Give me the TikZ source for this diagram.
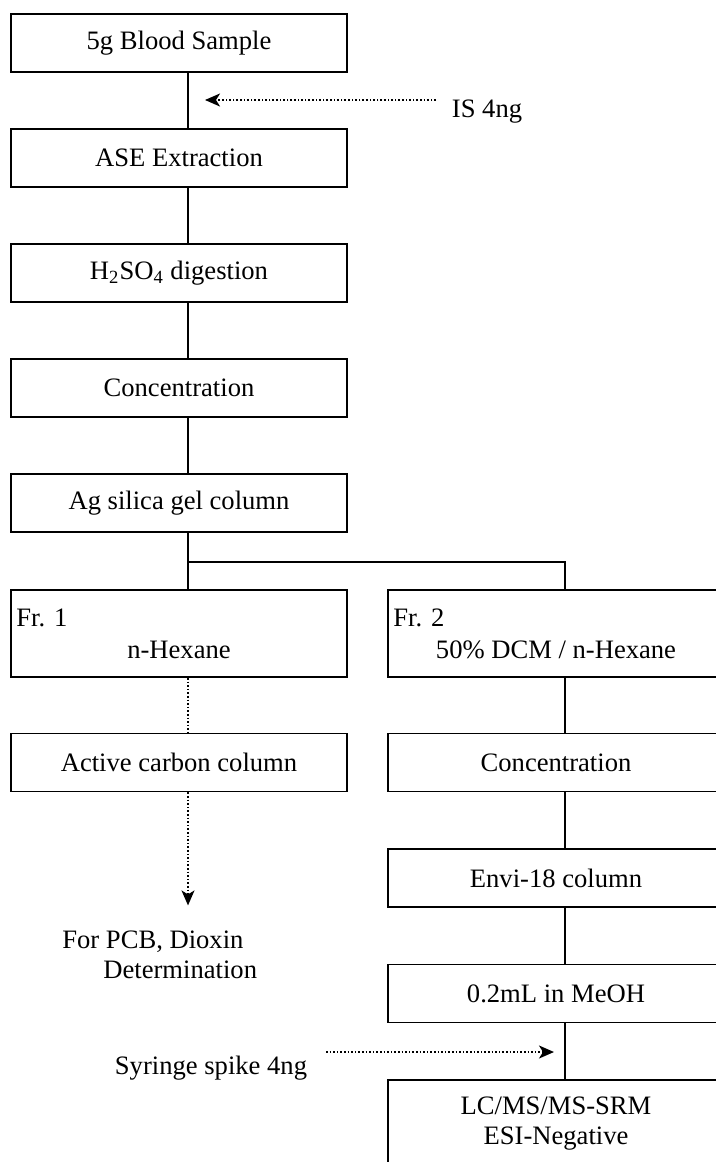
\documentclass[tikz,border=0pt]{standalone}
\usepackage{fontspec}
\setmainfont{Liberation Serif}
\usetikzlibrary{arrows.meta}

\tikzset{
  stepbox/.style={draw, line width=0.9pt, minimum width=168pt, minimum height=29pt, inner sep=0pt},
  fracbox/.style={stepbox, minimum height=43.5pt},
  flow/.style={line width=0.8pt},
  spike/.style={line width=0.8pt, densely dotted, -{Stealth[length=7.5pt,width=6.5pt,inset=2pt]}},
}

\begin{document}
\begin{tikzpicture}[x=0.5pt,y=-0.5pt,font=\fontsize{13.3}{15}\selectfont]
			\useasboundingbox (0,0) rectangle (716,1162);
			% connector columns
			\coordinate (lx) at (188,0);
			\coordinate (rx) at (565,0);
			\coordinate (split) at (188,562);
			% left column
			\node [stepbox] (blood) at (179,43) {5g Blood Sample};
			\node [stepbox] (ase) at (179,158) {ASE Extraction};
			\node [stepbox] (acid) at (179,273) {H\textsubscript{2}SO\textsubscript{4} digestion};
			\node [stepbox] (concA) at (179,388) {Concentration};
			\node [stepbox] (agcol) at (179,503) {Ag silica gel column};
			\node [fracbox] (fr1) at (179,633.5) {};
			\node [anchor=west,inner sep=0pt] (fr1tag) at (16,618) {Fr. 1};
			\node [inner sep=0pt] (fr1sol) at (179,650) {n-Hexane};
			\node [stepbox] (carbon) at (179,762.5) {Active carbon column};
			\node [anchor=west,align=left,inner sep=0pt] (pcb) at (62,955) {For PCB, Dioxin\\\hspace*{20.5pt}Determination};
			% right column
			\node [fracbox] (fr2) at (556,633.5) {};
			\node [anchor=west,inner sep=0pt] (fr2tag) at (393,618) {Fr. 2};
			\node [inner sep=0pt] (fr2sol) at (556,650) {50\% DCM / n-Hexane};
			\node [stepbox] (concB) at (556,762.5) {Concentration};
			\node [stepbox] (envi) at (556,878) {Envi-18 column};
			\node [stepbox] (meoh) at (556,993.5) {0.2mL in MeOH};
			\node [fracbox,align=center] (lcms) at (556,1123.5) {LC/MS/MS-SRM\\ESI-Negative};
			% spikes
			\node [inner sep=0pt] (istd) at (487,112) {IS 4ng};
			\coordinate (isfrom) at (436,100);
			\coordinate (isto) at (205,100);
			\node [inner sep=0pt] (syr) at (211,1068) {Syringe spike 4ng};
			\coordinate (syrfrom) at (326,1052);
			\coordinate (syrto) at (554,1052);
			% connectors
			\draw [flow] (blood.south -| lx) -- (ase.north -| lx);
			\draw [flow] (ase.south -| lx) -- (acid.north -| lx);
			\draw [flow] (acid.south -| lx) -- (concA.north -| lx);
			\draw [flow] (concA.south -| lx) -- (agcol.north -| lx);
			\draw [flow] (agcol.south -| lx) -- (fr1.north -| lx);
			\draw [flow] (split) -| (fr2.north -| rx);
			\draw [flow,densely dotted] (fr1.south -| lx) -- (carbon.north -| lx);
			\draw [spike] (carbon.south -| lx) -- ++(0,113);
			\draw [flow] (fr2.south -| rx) -- (concB.north -| rx);
			\draw [flow] (concB.south -| rx) -- (envi.north -| rx);
			\draw [flow] (envi.south -| rx) -- (meoh.north -| rx);
			\draw [flow] (meoh.south -| rx) -- (lcms.north -| rx);
			\draw [spike] (isfrom) -- (isto);
			\draw [spike] (syrfrom) -- (syrto);
		\end{tikzpicture}
\end{document}
